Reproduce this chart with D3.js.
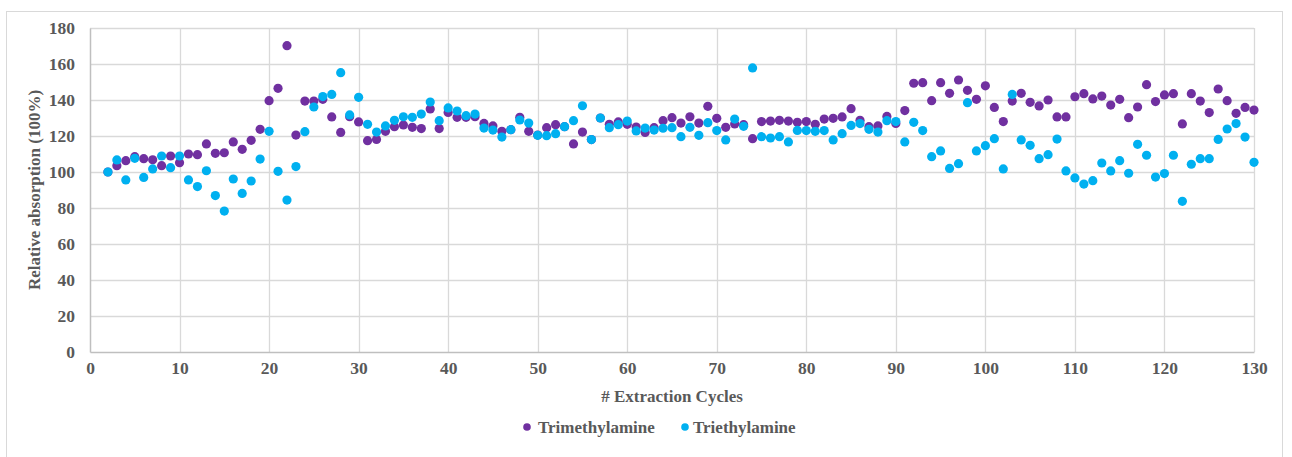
<!DOCTYPE html>
<html>
<head>
<meta charset="utf-8">
<script src="https://cdn.jsdelivr.net/npm/d3@7"></script>
<style>
  html, body { margin: 0; padding: 0; background: #ffffff; }
  svg { display: block; }
</style>
</head>
<body>
<svg id="chart" width="1292" height="457"></svg>
<script>
// ---- data ----
const cycles = d3.range(2, 131);
const trimethylamine = [
  100, 103.5, 106.3, 108.5, 107.4, 106.8, 103.5, 108.9, 105.2, 110,
  109.6, 115.6, 110.4, 110.7, 116.7, 112.6, 117.6, 123.7, 139.6, 146.5,
  170.2, 120.5, 139.4, 139.4, 140.4, 130.6, 122, 130.7, 127.8, 117.4,
  118.1, 122.6, 125.2, 126.1, 124.8, 124.1, 135, 124.1, 133.1, 130.4,
  130.4, 130.7, 127, 125.6, 122.6, 123.5, 130.4, 122.6, 120.5, 124.6,
  126.3, 125.2, 115.6, 122.2, 118, 130, 126.5, 127.8, 126.5, 125,
  122, 124.6, 128.5, 130.2, 127.2, 130.7, 127.2, 136.5, 129.8, 124.8,
  126.7, 126.3, 118.5, 128, 128.3, 128.7, 128.3, 127.6, 128, 126.5,
  129.4, 129.8, 130.6, 135.2, 128.7, 125.2, 125.6, 130.9, 127, 134.1,
  149.3, 149.6, 139.6, 149.6, 143.7, 151.1, 145.4, 140.4, 147.9, 135.9,
  128, 139.4, 143.7, 138.7, 136.7, 140, 130.6, 130.6, 141.8, 143.5,
  140.6, 142.2, 137.2, 140.4, 130.2, 136.1, 148.5, 139.1, 142.8, 143.5,
  126.7, 143.5, 139.4, 133, 146.1, 139.6, 132.6, 135.9, 134.4
];
const triethylamine = [
  100, 106.7, 95.6, 107.6, 97, 101.7, 108.9, 102.4, 108.9, 95.6,
  91.9, 100.7, 86.9, 78.3, 96.1, 88.1, 95, 107.2, 122.6, 100.4,
  84.4, 103, 122.4, 136.1, 141.9, 143.1, 155.2, 131.7, 141.5, 126.5,
  122.2, 125.6, 128.7, 130.7, 130.4, 132.2, 138.9, 128.5, 135.6, 133.9,
  131.3, 132.2, 124.4, 123.3, 119.4, 123.5, 128.9, 127.2, 120.4, 120.2,
  121.3, 125.2, 128.5, 136.8, 118, 130, 124.6, 126.3, 128.3, 122.8,
  124.4, 123.3, 124.3, 124.6, 119.6, 124.8, 120.4, 127.4, 123, 117.8,
  129.4, 125.4, 157.8, 119.6, 118.9, 119.6, 116.7, 123.1, 123, 122.6,
  123, 117.8, 121.3, 125.9, 126.9, 123.7, 122.2, 128.5, 128, 116.7,
  127.6, 123, 108.5, 111.7, 102, 104.6, 138.5, 111.7, 114.6, 118.5,
  101.7, 143.1, 117.8, 114.8, 107.4, 109.6, 118.3, 100.6, 96.7, 93.3,
  95.2, 105, 100.6, 106.3, 99.3, 115.4, 109.3, 97.2, 99.1, 109.3,
  83.7, 104.3, 107.4, 107.4, 118.1, 123.9, 126.9, 119.4, 105.4
];
const xTicks = [0, 10, 20, 30, 40, 50, 60, 70, 80, 90, 100, 110, 120, 130];
const yTicks = [0, 20, 40, 60, 80, 100, 120, 140, 160, 180];
const seriesNames = ["Trimethylamine", "Triethylamine"];
const seriesColors = ["#7030A0", "#00B0F0"];
const xTitle = "# Extraction Cycles";
const yTitle = "Relative absorption (100%)";

// ---- layout ----
const FONT = "'Liberation Serif', 'Times New Roman', 'DejaVu Serif', serif";
const svg = d3.select("#chart");
const W = 1292, H = 457;
const plot = { left: 90, right: 1254, top: 28, bottom: 352 };

function styleText(sel, size) {
  sel.style("font-family", FONT).style("font-weight", "bold")
     .style("font-size", size + "px").style("fill", "#595959");
}

svg.append("rect").attr("x", 0).attr("y", 0).attr("width", W).attr("height", H).attr("fill", "#fff");
svg.append("rect").attr("x", 6.5).attr("y", 11.5).attr("width", 1276).attr("height", 450)
  .attr("fill", "none").attr("stroke", "#d9d9d9").attr("stroke-width", 1);

const x = d3.scaleLinear().domain([0, 130]).range([plot.left, plot.right]);
const y = d3.scaleLinear().domain([0, 180]).range([plot.bottom, plot.top]);

// gridlines
const grid = svg.append("g");
grid.selectAll("line.h").data(yTicks.filter(d => d > 0)).join("line")
  .attr("x1", plot.left).attr("x2", plot.right)
  .attr("y1", d => Math.round(y(d)) + 0.5).attr("y2", d => Math.round(y(d)) + 0.5)
  .attr("stroke", "#d9d9d9").attr("stroke-width", 1.3);
grid.selectAll("line.v").data(xTicks.filter(d => d > 0)).join("line")
  .attr("y1", plot.top).attr("y2", plot.bottom)
  .attr("x1", d => Math.round(x(d)) + 0.5).attr("x2", d => Math.round(x(d)) + 0.5)
  .attr("stroke", "#d9d9d9").attr("stroke-width", 1.3);

// axes
const xAxis = d3.axisBottom(x).tickValues(xTicks).tickSize(0).tickPadding(10).tickFormat(d3.format("d"));
const gx = svg.append("g").attr("transform", `translate(0,${plot.bottom})`).call(xAxis);
gx.select(".domain").attr("stroke", "#bfbfbf").attr("stroke-width", 1.5);
styleText(gx.selectAll("text"), 17.5);

const yAxis = d3.axisLeft(y).tickValues(yTicks).tickSize(0).tickPadding(15).tickFormat(d3.format("d"));
const gy = svg.append("g").attr("transform", `translate(${plot.left},0)`).call(yAxis);
gy.select(".domain").attr("stroke", "#bfbfbf").attr("stroke-width", 1.5);
styleText(gy.selectAll("text"), 17.5);

// titles
styleText(svg.append("text").attr("x", (plot.left + plot.right) / 2).attr("y", 402)
  .attr("text-anchor", "middle").text(xTitle), 17);
styleText(svg.append("text").attr("transform", `translate(40,${(plot.top + plot.bottom) / 2}) rotate(-90)`)
  .attr("text-anchor", "middle").text(yTitle), 17);

// points
const seriesData = [trimethylamine, triethylamine];
seriesData.forEach((vals, si) => {
  svg.append("g").selectAll("circle").data(vals).join("circle")
    .attr("cx", (d, i) => x(cycles[i]))
    .attr("cy", d => y(d))
    .attr("r", 4.6)
    .attr("fill", seriesColors[si]);
});

// legend
const legendItems = [{ cx: 527, tx: 538 }, { cx: 685, tx: 693 }];
legendItems.forEach((it, i) => {
  svg.append("circle").attr("cx", it.cx).attr("cy", 427).attr("r", 3.8).attr("fill", seriesColors[i]);
  styleText(svg.append("text").attr("x", it.tx).attr("y", 433).text(seriesNames[i]), 17);
});
</script>
</body>
</html>
